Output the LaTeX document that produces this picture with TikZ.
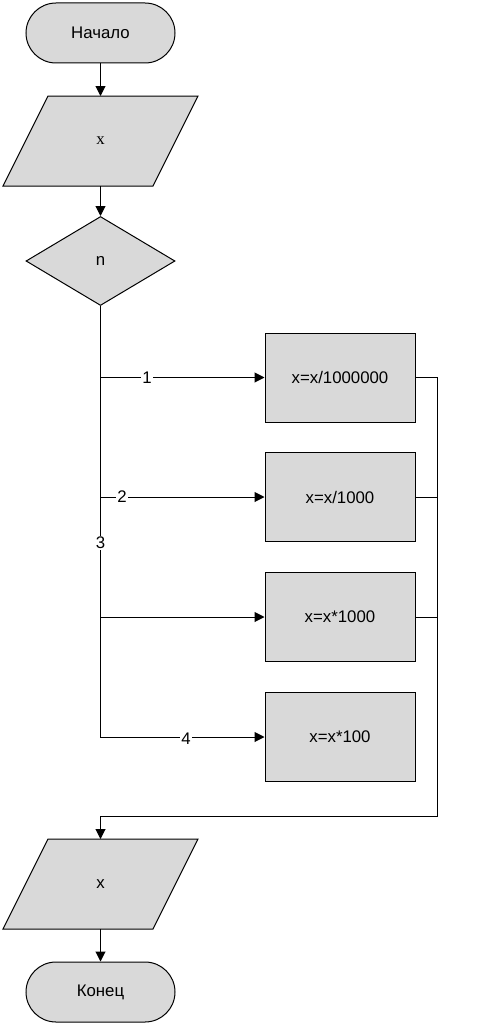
\documentclass[tikz,border=0pt]{standalone}
\usepackage{fontspec}
\setmainfont{Liberation Sans}
\newfontfamily\serifx{Liberation Serif}
\usetikzlibrary{arrows.meta,shapes.geometric}
\definecolor{fillc}{RGB}{217,217,217}
\begin{document}
\begin{tikzpicture}[x=1pt,y=-1pt,
  every node/.style={font=\fontsize{16.8}{20}\selectfont},
  shp/.style={draw=black,fill=fillc,line width=1pt},
  term/.style={shp,rounded corners=30pt,minimum width=149pt,minimum height=60pt,inner sep=0pt},
  proc/.style={shp,minimum width=150pt,minimum height=89pt,inner sep=0pt},
  dec/.style={shp,diamond,minimum width=149pt,minimum height=89pt,inner sep=0pt},
  lab/.style={fill=white,inner sep=1pt},
  conn/.style={line width=1pt},
  arr/.style={conn,-{Triangle[length=10pt,width=10pt]}}]
\useasboundingbox (0,0) rectangle (488,1025);
% start
\node[term] (start) at (100.5,33) {Начало};
% input
\draw[shp] (48,96) -- (198,96) -- (153,186) -- (3,186) -- cycle;
\node (in) at (100.5,141) {\serifx x};
\coordinate (inT) at (100.5,96);
\coordinate (inB) at (100.5,186);
% decision
\node[dec] (d) at (100.5,261) {n};
% process boxes
\node[proc] (b1) at (340,377.5) {x=x/1000000};
\node[proc] (b2) at (340,497) {x=x/1000};
\node[proc] (b3) at (340,617) {x=x*1000};
\node[proc] (b4) at (340,737) {x=x*100};
% output
\draw[shp] (48,839) -- (198,839) -- (153,929) -- (3,929) -- cycle;
\node (out) at (100.5,884) {x};
\coordinate (outT) at (100.5,839);
\coordinate (outB) at (100.5,929);
% end
\node[term] (end) at (100.5,992) {Конец};
% collector
\coordinate (m) at (437,816);
% connectors
\draw[arr] (start) -- (inT);
\draw[arr] (inB) -- (d.north);
\draw[arr] (d.south) |- (b4.west);
\draw[arr] (d.south |- b1.west) -- (b1.west);
\draw[arr] (d.south |- b2.west) -- (b2.west);
\draw[arr] (d.south |- b3.west) -- (b3.west);
\draw[arr] (b1.east) -| (m) -| (outT);
\draw[conn] (b2.east) -- (b2.east -| m);
\draw[conn] (b3.east) -- (b3.east -| m);
\draw[arr] (outB) -- (end);
% labels
\node[lab] (l1) at (147,377.5) {1};
\node[lab] (l2) at (122,497) {2};
\node[lab] (l3) at (100.5,543) {3};
\node[lab] (l4) at (186,739) {4};
\end{tikzpicture}
\end{document}
